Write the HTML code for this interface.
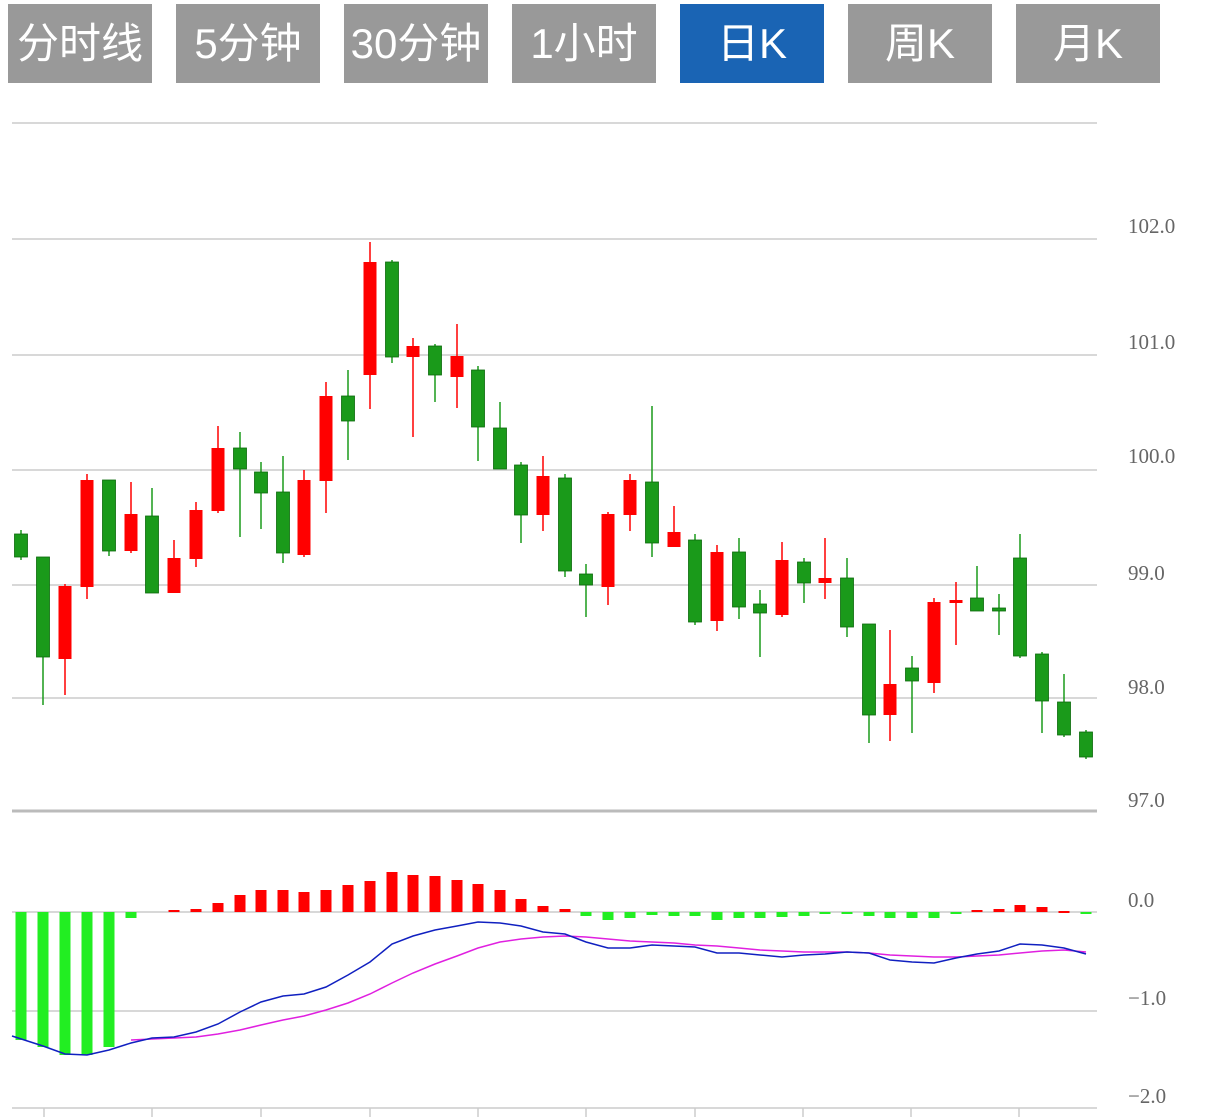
<!DOCTYPE html>
<html><head><meta charset="utf-8"><style>
body{margin:0;background:#fff;width:1207px;height:1117px;overflow:hidden;font-family:"Liberation Sans","Noto Sans CJK SC",sans-serif}
.tab{position:absolute;top:4px;height:79px;width:144px;background:#999;color:#fff;font-size:42px;line-height:79px;text-align:center}
.act{background:#1a64b4}
svg{position:absolute;left:0;top:0}
</style></head><body>
<div class="tab" style="left:8px">分时线</div>
<div class="tab" style="left:176px">5分钟</div>
<div class="tab" style="left:344px">30分钟</div>
<div class="tab" style="left:512px">1小时</div>
<div class="tab act" style="left:680px">日K</div>
<div class="tab" style="left:848px">周K</div>
<div class="tab" style="left:1016px">月K</div>
<svg width="1207" height="1117" id="s"></svg>
<script>
const s=document.getElementById('s');let h='';
[123,239,355,470,585,698].forEach(y=>h+=`<line x1="12" x2="1097" y1="${y}" y2="${y}" stroke="#ccc" stroke-width="1.5"/>`);
h+=`<line x1="12" x2="1097" y1="811" y2="811" stroke="#bbb" stroke-width="3"/>`;
h+=`<line x1="12" x2="1097" y1="912" y2="912" stroke="#ccc" stroke-width="1.5"/>`;
h+=`<line x1="12" x2="1097" y1="1011" y2="1011" stroke="#ccc" stroke-width="1.5"/>`;
h+=`<line x1="12" x2="1097" y1="1108" y2="1108" stroke="#ccc" stroke-width="1.5"/>`;
[44,152,261,370,478,586,695,803,911,1019].forEach(x=>h+=`<line x1="${x}" x2="${x}" y1="1108" y2="1117" stroke="#ccc" stroke-width="1.5"/>`);
[["102.0",226],["101.0",342],["100.0",456],["99.0",573],["98.0",687],["97.0",800],["0.0",900],["\u22121.0",998],["\u22122.0",1096]].forEach(([t,y])=>h+=`<text x="${t.length>4&&t[0]!='\u2212'?1128:1128}" y="${y+7}" font-size="21" fill="#666" font-family="Liberation Serif, serif">${t}</text>`);
const c=[[21,'g',534,557,530,560],[43,'g',557,657,557,705],[65,'r',586,659,584,695],[87,'r',480,587,474,599],[109,'g',480,551,480,556],[131,'r',514,551,482,553],[152,'g',516,593,488,593],[174,'r',558,593,540,593],[196,'r',510,559,502,567],[218,'r',448,511,426,513],[240,'g',448,469,432,537],[261,'g',472,493,462,529],[283,'g',492,553,456,563],[304,'r',480,555,470,557],[326,'r',396,481,382,513],[348,'g',396,421,370,460],[370,'r',262,375,242,409],[392,'g',262,357,260,363],[413,'r',346,357,338,437],[435,'g',346,375,344,402],[457,'r',356,377,324,408],[478,'g',370,427,366,461],[500,'g',428,469,402,469],[521,'g',465,515,462,543],[543,'r',476,515,456,531],[565,'g',478,571,474,577],[586,'g',574,585,564,617],[608,'r',514,587,512,605],[630,'r',480,515,474,531],[652,'g',482,543,406,557],[674,'r',532,547,506,547],[695,'g',540,622,534,625],[717,'r',552,621,545,631],[739,'g',552,607,538,619],[760,'g',604,613,590,657],[782,'r',560,615,542,617],[804,'g',562,583,558,603],[825,'r',578,583,538,599],[847,'g',578,627,558,637],[869,'g',624,715,624,743],[890,'r',684,715,630,741],[912,'g',668,681,656,733],[934,'r',602,683,598,693],[956,'r',600,603,582,645],[977,'g',598,611,566,611],[999,'g',608,611,594,635],[1020,'g',558,656,534,658],[1042,'g',654,701,652,733],[1064,'g',702,735,674,737],[1086,'g',732,757,730,759]];
c.forEach(([x,k,t,b,wt,wb])=>{const col=k=='r'?'#f00':'#1a9a1a';h+=`<line x1="${x}" x2="${x}" y1="${wt}" y2="${wb}" stroke="${col}" stroke-width="1.5"/><rect x="${x-6.5}" y="${t}" width="13" height="${Math.max(b-t,2)}" fill="${col}" stroke="${k=='g'?'#0a6a0a':'none'}" stroke-width="0.8"/>`;});
const m=[1040,1047,1055,1055,1047,918,912,910,909,903,895,890,890,892,890,885,881,872,875,876,880,884,890,899,906,909,916,920,918,915,916,916,920,918,918,917,916,914,914,916,918,918,918,914,910,909,905,907,911,914];
m.forEach((y,i)=>{if(y==912)return;const x=c[i][0];const t=Math.min(y,912),hh=Math.max(Math.abs(y-912),2);h+=`<rect x="${x-5.5}" y="${t}" width="11" height="${hh}" fill="${y>912?'#22ee22':'#f00'}"/>`;});
const dif=[[12,1036],[43,1046],[65,1054],[87,1055],[109,1050],[131,1043],[152,1038],[174,1037],[196,1032],[218,1024],[240,1012],[261,1002],[283,996],[304,994],[326,987],[348,975],[370,962],[392,944],[413,936],[435,930],[457,926],[478,922],[500,923],[521,926],[543,932],[565,934],[586,942],[608,948],[630,948],[652,945],[674,946],[695,947],[717,953],[739,953],[760,955],[782,957],[804,955],[825,954],[847,952],[869,953],[890,960],[912,962],[934,963],[956,958],[977,954],[999,951],[1020,944],[1042,945],[1064,948],[1086,954]];
const dea=[[131,1040],[152,1039],[174,1038],[196,1037],[218,1034],[240,1030],[261,1025],[283,1020],[304,1016],[326,1010],[348,1003],[370,994],[392,983],[413,973],[435,964],[457,956],[478,948],[500,942],[521,939],[543,937],[565,936],[586,937],[608,939],[630,941],[652,942],[674,943],[695,945],[717,946],[739,948],[760,950],[782,951],[804,952],[825,952],[847,952],[869,953],[890,955],[912,956],[934,957],[956,957],[977,956],[999,955],[1020,953],[1042,951],[1064,950],[1086,952]];
h+=`<polyline points="${dea.join(' ')}" fill="none" stroke="#e020e0" stroke-width="1.5"/>`;
h+=`<polyline points="${dif.join(' ')}" fill="none" stroke="#1020c0" stroke-width="1.5"/>`;
s.innerHTML=h;
</script>
</body></html>
